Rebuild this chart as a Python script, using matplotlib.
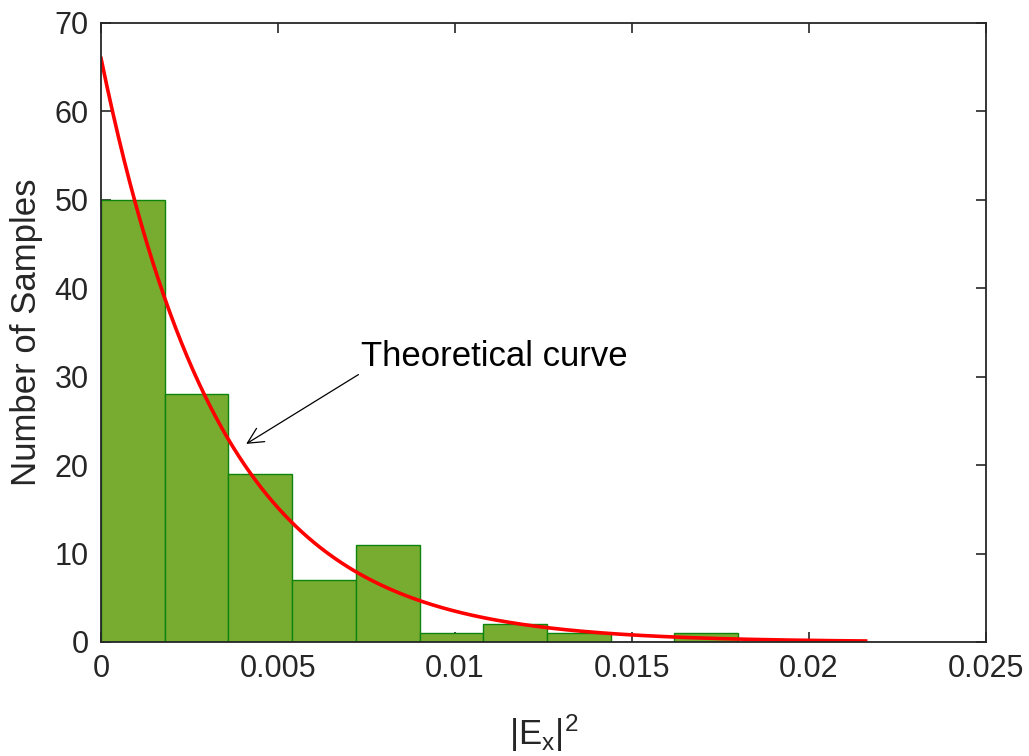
import numpy as np
import matplotlib
matplotlib.use("Agg")
import matplotlib.pyplot as plt

# histogram of |Ex|^2 samples (bin edges and counts)
bin_width = 0.0018
bin_edges = [i * bin_width for i in range(13)]
counts = [50, 28, 19, 7, 11, 1, 2, 1, 0, 1, 0, 0]

# theoretical exponential curve parameters
curve_amp = 66.0
curve_mean = 0.0034
curve_xmax = 0.0216

plt.rcParams['font.family'] = ['Liberation Sans', 'DejaVu Sans']
plt.rcParams['mathtext.fontset'] = 'custom'
plt.rcParams['mathtext.rm'] = 'Liberation Sans'
plt.rcParams['mathtext.it'] = 'Liberation Sans'

dark = '#262626'

fig = plt.figure(figsize=(10.29, 7.56), dpi=100)
ax = fig.add_axes([0.0982, 0.1508, 0.8600, 0.8188])

ax.bar(bin_edges[:-1], counts, width=bin_width, align='edge',
       color='#77AC30', edgecolor='#0E840E', linewidth=1.0, zorder=2)

xc = np.linspace(0, curve_xmax, 400)
ax.plot(xc, curve_amp * np.exp(-xc / curve_mean), color='#FF0000', lw=2.6, zorder=3)

ax.annotate('Theoretical curve', xy=(0.0041, 22.4), xytext=(0.00735, 32.3),
            fontsize=25, color='black', va='center', ha='left',
            arrowprops=dict(arrowstyle='->', color='black', lw=0.9,
                            shrinkA=0, shrinkB=0, mutation_scale=28,
                            relpos=(0.0, 0.0)))

ax.set_xlim(0, 0.025)
ax.set_ylim(0, 70)
ax.set_xticks([0, 0.005, 0.01, 0.015, 0.02, 0.025])
ax.set_xticklabels(['0', '0.005', '0.01', '0.015', '0.02', '0.025'])
ax.set_yticks(range(0, 71, 10))

ax.tick_params(direction='in', length=7, width=1.2, colors=dark,
               labelsize=22, top=True, right=True, pad=9)
for s in ax.spines.values():
    s.set_color(dark)
    s.set_linewidth(1.3)
    s.set_zorder(5)

ax.set_xlabel(r'$|\mathrm{E}_\mathrm{x}|^2$', fontsize=25, color=dark, labelpad=20)
ax.set_ylabel('Number of Samples', fontsize=25, color=dark, labelpad=8)

fig.savefig('out.png', dpi=100)
